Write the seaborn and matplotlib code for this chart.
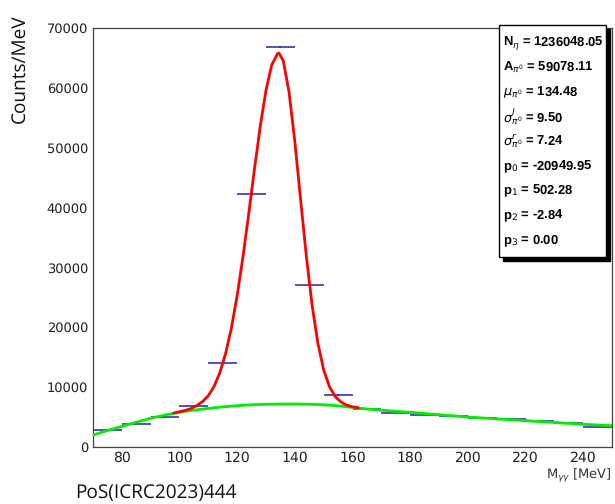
import numpy as np
import pandas as pd
import matplotlib
matplotlib.use("Agg")
import matplotlib.pyplot as plt
import seaborn as sns
from matplotlib.ticker import MultipleLocator
from matplotlib.patches import Rectangle

# ---- data ----
bin_low = [70, 80, 90, 100, 110, 120, 130, 140, 150, 160, 170, 180, 190, 200, 210, 220, 230, 240]
bin_counts = [2800, 3900, 5000, 6850, 14000, 42200, 66900, 27000, 8700, 6300,
              5680, 5400, 5200, 4850, 4650, 4300, 4000, 3350]
bin_err = [60, 70, 80, 90, 120, 200, 170, 160, 100, 90, 80, 80, 80, 80, 70, 70, 70, 60]

bkg_x = [70, 75, 80, 85, 90, 95, 100, 105, 110, 115, 120, 125, 130, 135, 140, 145, 150,
         155, 160, 165, 170, 175, 180, 185, 190, 195, 200, 205, 210, 215, 220, 225, 230,
         235, 240, 245, 250]
bkg_y = [2000, 2750, 3450, 4150, 4800, 5350, 5800, 6150, 6450, 6700, 6900, 7050, 7130,
         7170, 7180, 7140, 7050, 6880, 6600, 6350, 6150, 5970, 5790, 5590, 5400, 5200,
         5010, 4850, 4700, 4550, 4400, 4250, 4100, 3950, 3790, 3680, 3560]

tot_x = [98, 100, 102, 104, 106, 108, 110, 112, 114, 116, 118, 120, 122, 124, 126, 128,
         130, 132, 134, 134.5, 136, 138, 140, 142, 144, 146, 148, 150, 152, 154, 156,
         158, 160, 162]
tot_y = [5660, 5880, 6120, 6420, 6925, 7595, 8570, 10135, 12430, 15630, 19890, 25290,
         31730, 38930, 46420, 53560, 59600, 63825, 65720, 65800, 64520, 59265, 51010,
         41345, 31850, 23650, 17320, 12885, 10085, 8425, 7507, 7000, 6717, 6563]

stat_labels = [r"N$_{\eta}$", r"A$_{\pi^{0}}$", r"$\mu_{\pi^{0}}$", r"$\sigma^{l}_{\pi^{0}}$",
               r"$\sigma^{r}_{\pi^{0}}$", r"p$_{0}$", r"p$_{1}$", r"p$_{2}$", r"p$_{3}$"]
stat_values = ["1236048.05", "59078.11", "134.48", "9.50", "7.24", "-20949.95",
               "502.28", "-2.84", "0.00"]

xticks = [80, 100, 120, 140, 160, 180, 200, 220, 240]
yticks = [0, 10000, 20000, 30000, 40000, 50000, 60000, 70000]

# ---- figure ----
sns.set_theme(style="white")
plt.rcParams["font.family"] = ["DejaVu Sans"]
plt.rcParams["mathtext.fontset"] = "dejavusans"
plt.rcParams["text.hinting"] = "no_hinting"
plt.rcParams["text.hinting_factor"] = 1

W, H = 615, 504
fig = plt.figure(figsize=(W / 100, H / 100), dpi=100)
L, R, T, B = 93, 612, 28, 447
ax = fig.add_axes([L / W, 1 - B / H, (R - L) / W, (B - T) / H])

centers = [b + 5 for b in bin_low]
ax.errorbar(centers, bin_counts, xerr=5, yerr=bin_err, fmt="none",
            ecolor="#3434b4", elinewidth=1.2, capsize=0, zorder=2)

bkg_df = pd.DataFrame({"x": bkg_x, "y": bkg_y})
tot_df = pd.DataFrame({"x": tot_x, "y": tot_y})
sns.lineplot(data=bkg_df, x="x", y="y", color="#00ee00", linewidth=2.0,
             estimator=None, sort=False, ax=ax, zorder=3)
sns.lineplot(data=tot_df, x="x", y="y", color="#ff0000", linewidth=2.0,
             estimator=None, sort=False, ax=ax, zorder=4)

ax.set_xlim(70, 250)
ax.set_ylim(0, 70000)
ax.set_xlabel("")
ax.set_ylabel("")
ax.set_xticks(xticks)
ax.set_xticklabels([str(t) for t in xticks])
ax.set_yticks(yticks)
ax.set_yticklabels([str(t) for t in yticks])
ax.xaxis.set_minor_locator(MultipleLocator(5))
ax.yaxis.set_minor_locator(MultipleLocator(2000))
ax.tick_params(axis="both", which="both", direction="in", color="#333333",
               width=0.9, labelcolor="#222222")
ax.tick_params(axis="y", which="major", length=13, pad=3.5, labelsize=9)
ax.tick_params(axis="y", which="minor", length=6.5)
ax.tick_params(axis="x", which="major", length=8, pad=3.0, labelsize=10)
ax.tick_params(axis="x", which="minor", length=4)
ax.tick_params(top=False, right=False, which="both")
for s in ax.spines.values():
    s.set_color("#444444")
    s.set_linewidth(0.9)

# x axis title
fig.text(R / W, 1 - 475 / H, r"M$_{\gamma\gamma}$ [MeV]", ha="right", va="center",
         fontsize=9.2, color="#333333")

# stats box
bx0, bx1, by0, by1 = 499, 606, 25, 257
sh = 4
fig.patches.append(Rectangle((bx0 / W + sh / W, 1 - (by1 + sh) / H), (bx1 - bx0) / W,
                             (by1 - by0) / H, transform=fig.transFigure,
                             facecolor="black", edgecolor="black", zorder=10))
fig.patches.append(Rectangle((bx0 / W, 1 - by1 / H), (bx1 - bx0) / W, (by1 - by0) / H,
                             transform=fig.transFigure, facecolor="white",
                             edgecolor="black", linewidth=1.0, zorder=11))
row0, dy = 43, 24.6
for i, (lab, val) in enumerate(zip(stat_labels, stat_values)):
    fig.text(503 / W, 1 - (row0 + i * dy) / H, f"{lab} = {val}", ha="left", va="center",
             fontsize=9.0, fontweight="bold", family=["Liberation Sans", "DejaVu Sans"],
             color="black", zorder=12)

# page texts
fig.text(20 / W, 1 - 69 / H, "Counts/MeV", rotation=90, ha="center", va="center",
         fontsize=14, family=["Open Sans", "DejaVu Sans"], color="#111111")
fig.text(75 / W, 1 - 493 / H, "PoS(ICRC2023)444", ha="left", va="center",
         fontsize=13.5, family=["Open Sans", "DejaVu Sans"], color="#111111")

fig.savefig("out.png", dpi=100)
